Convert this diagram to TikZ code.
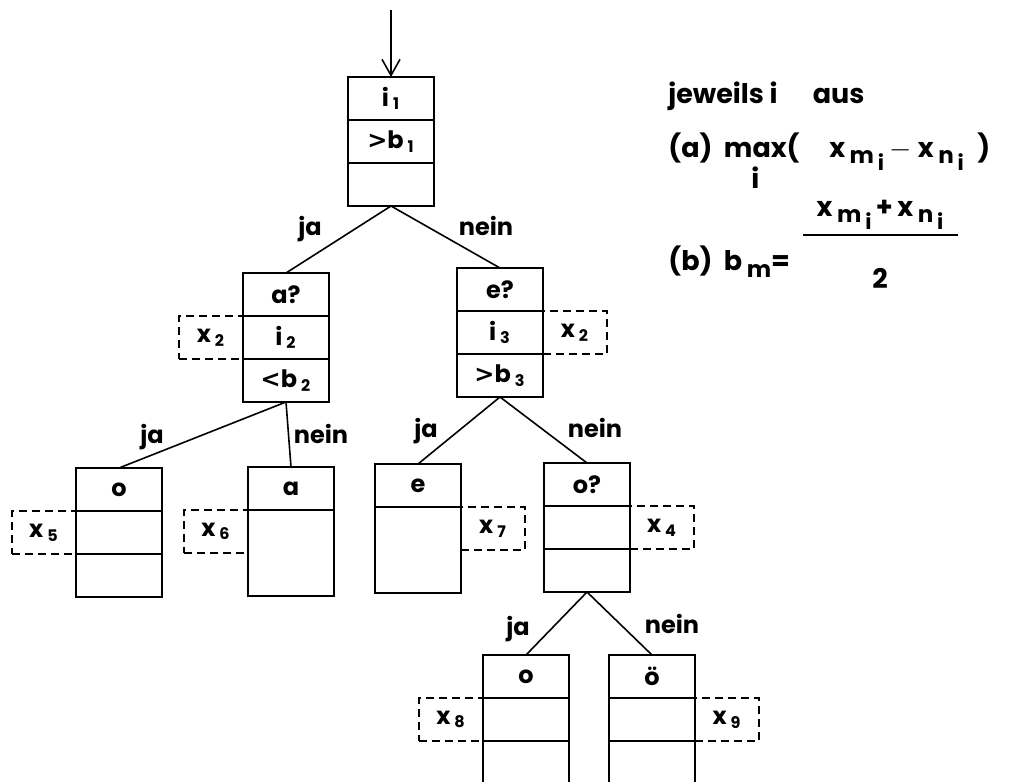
\documentclass[tikz,border=0pt]{standalone}
\usepackage{amsmath}
\usepackage{fontspec}
\setmainfont{Poppins}
\newfontfamily\symfont{DejaVu Sans}
\usetikzlibrary{arrows.meta, positioning}

\newcommand{\sub}[1]{\,\textsubscript{#1}}
\newcommand{\cmp}[1]{{\symfont\bfseries #1}}
\newcommand{\xsub}[1]{x\,\raisebox{-0.45ex}{\fontsize{11.5}{12}\selectfont #1\,\raisebox{-0.5ex}{\fontsize{10.5}{11}\selectfont i}}}

\tikzset{
  cell/.style={draw, line width=1.1pt, minimum width=43pt, minimum height=21.5pt,
    inner sep=0pt, outer sep=0pt, font=\fontsize{12}{14}\selectfont\bfseries},
  tallcell/.style={cell, minimum height=43pt},
  extra/.style={draw, dash pattern=on 4pt off 2.5pt, line width=0.9pt,
    minimum width=32pt, minimum height=21.5pt, inner sep=0pt, outer sep=0pt,
    font=\fontsize{12}{14}\selectfont\bfseries},
  edge/.style={line width=0.8pt},
  lbl/.style={anchor=base, inner sep=0pt, font=\fontsize{12}{14}\selectfont\bfseries},
  note/.style={anchor=base west, inner sep=0pt, font=\fontsize{13.5}{15.5}\selectfont\bfseries}
}

\begin{document}
\begin{tikzpicture}[x=0.5pt, y=-0.5pt]
\useasboundingbox (0,0) rectangle (1013,782);

% Wurzel
\coordinate (start) at (391,10);
\node[cell] (r1) at (391,98.5) {i\sub{1}};
\node[cell, below=0pt of r1] (r2) {\cmp{>}b\sub{1}};
\node[cell, below=0pt of r2] (r3) {};
\draw[edge, -{Straight Barb[length=8pt, width=9pt]}] (start) -- (r1.north);

% zweite Ebene
\node[cell] (a1) at (286,294.5) {a?};
\node[cell, below=0pt of a1] (a2) {i\sub{2}};
\node[cell, below=0pt of a2] (a3) {\cmp{<}b\sub{2}};
\node[extra, left=0pt of a2] (xa) {x\sub{2}};

\node[cell] (e1) at (500,289.5) {e?};
\node[cell, below=0pt of e1] (e2) {i\sub{3}};
\node[cell, below=0pt of e2] (e3) {\cmp{>}b\sub{3}};
\node[extra, right=0pt of e2] (xe) {x\sub{2}};

\draw[edge] (r3.south) -- (a1.north);
\draw[edge] (r3.south) -- (e1.north);
\node[lbl] (ja1) at (310,235) {ja};
\node[lbl] (nein1) at (486,235) {nein};

% dritte Ebene
\node[cell] (p1) at (119,489.5) {o};
\node[cell, below=0pt of p1] (p2) {};
\node[cell, below=0pt of p2] (p3) {};
\node[extra, left=0pt of p2] (xp) {x\sub{5}};

\node[cell] (q1) at (291,488.5) {a};
\node[tallcell, below=0pt of q1] (q2) {};
\node[extra, anchor=north east] (xq) at (q2.north west) {x\sub{6}};

\node[cell] (s1) at (418,485.5) {e};
\node[tallcell, below=0pt of s1] (s2) {};
\node[extra, anchor=north west] (xs) at (s2.north east) {x\sub{7}};

\node[cell] (t1) at (587,484.5) {o?};
\node[cell, below=0pt of t1] (t2) {};
\node[cell, below=0pt of t2] (t3) {};
\node[extra, right=0pt of t2] (xt) {x\sub{4}};

\draw[edge] (a3.south) -- (p1.north);
\draw[edge] (a3.south) -- (q1.north);
\draw[edge] (e3.south) -- (s1.north);
\draw[edge] (e3.south) -- (t1.north);
\node[lbl] (ja2) at (152,443) {ja};
\node[lbl] (nein2) at (321,443) {nein};
\node[lbl] (ja3) at (426,437) {ja};
\node[lbl] (nein3) at (595,437) {nein};

% vierte Ebene
\node[cell] (u1) at (526,676.5) {o};
\node[cell, below=0pt of u1] (u2) {};
\node[cell, below=0pt of u2] (u3) {};
\node[extra, left=0pt of u2] (xu) {x\sub{8}};

\node[cell] (v1) at (652,676.5) {ö};
\node[cell, below=0pt of v1] (v2) {};
\node[cell, below=0pt of v2] (v3) {};
\node[extra, right=0pt of v2] (xv) {x\sub{9}};

\draw[edge] (t3.south) -- (u1.north);
\draw[edge] (t3.south) -- (v1.north);
\node[lbl] (ja4) at (518,635) {ja};
\node[lbl] (nein4) at (672,633) {nein};

% Erlaeuterung
\node[note] (n1) at (668,103) {jeweils~i\hspace{1.3em}aus};
\node[note] (n2) at (668,157) {(a)\ \ \begin{tabular}[t]{@{}c@{}}max\\i\end{tabular}(\hspace{1.1em}\xsub{m}\ $-$\ \xsub{n}\hspace{0.5em})};
\node[note] (n3) at (668,270) {(b)\ \ b\,\raisebox{-0.5ex}{\fontsize{11.5}{12}\selectfont m}=};
\node[note, anchor=base] (num) at (880,216) {\xsub{m}\,+\,\xsub{n}};
\node[note, anchor=base] (den) at (880,288) {2};
\draw[line width=0.8pt] (803,235) -- (958,235);
\end{tikzpicture}
\end{document}
